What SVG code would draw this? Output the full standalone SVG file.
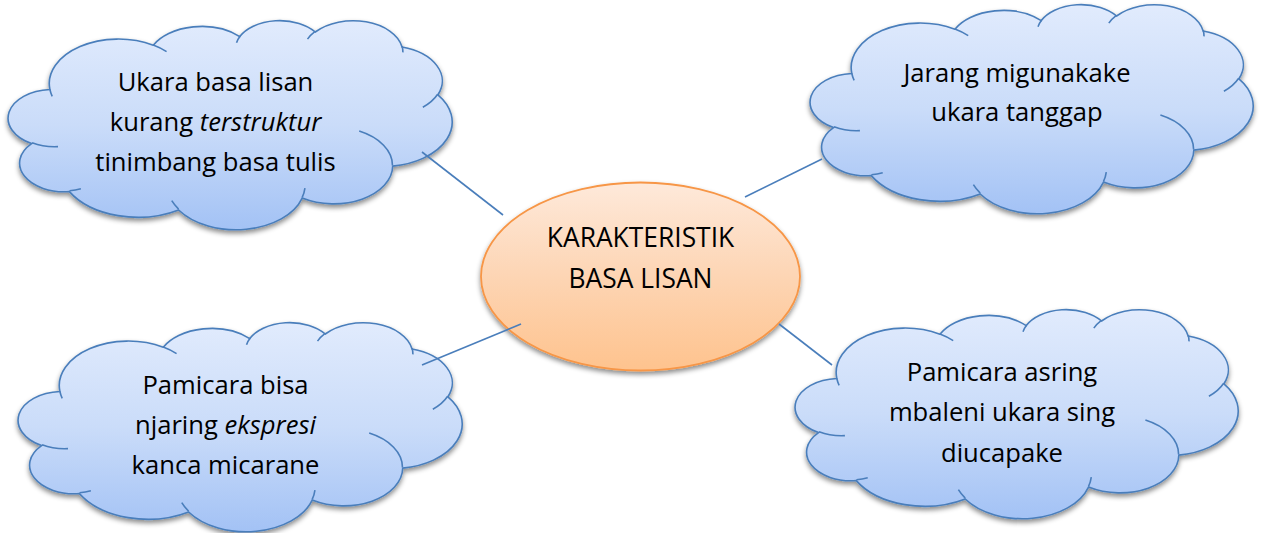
<svg xmlns="http://www.w3.org/2000/svg" width="1263" height="533" viewBox="0 0 1263 533">
<style>
.cloud{fill:url(#gBlue);stroke:#4a7ebb;stroke-width:1.6;vector-effect:non-scaling-stroke;}
.inner{fill:none;stroke:#4a7ebb;stroke-width:1.6;vector-effect:non-scaling-stroke;}
.oval{fill:url(#gOrange);stroke:#f79646;stroke-width:1.8;}
.conn{stroke:#4a7ebb;stroke-width:1.6;fill:none;}
text{font-family:"Open Sans","Noto Sans","Liberation Sans",sans-serif;font-size:25.6px;fill:#000;text-anchor:middle;}
.it{font-style:italic;}
</style>
<defs>
<linearGradient id="gBlue" x1="0" y1="0" x2="0" y2="1">
<stop offset="0" stop-color="#e1ebfd"/>
<stop offset="0.5" stop-color="#cadcf9"/>
<stop offset="1" stop-color="#a3c2f5"/>
</linearGradient>
<linearGradient id="gOrange" x1="0" y1="0" x2="0" y2="1">
<stop offset="0" stop-color="#fee9da"/>
<stop offset="0.5" stop-color="#fdd5b4"/>
<stop offset="1" stop-color="#fec38e"/>
</linearGradient>
<filter id="shadow" x="-10%" y="-10%" width="120%" height="130%">
<feDropShadow dx="0" dy="3" stdDeviation="2.5" flood-color="#000" flood-opacity="0.45"/>
</filter>
</defs>

<g id="node-center">
<g filter="url(#shadow)"><ellipse class="oval" cx="640.5" cy="276.5" rx="159.5" ry="94"/></g>
<text x="640.5" y="246.5" style="font-size:26.4px">KARAKTERISTIK</text>
<text x="640.5" y="288" style="font-size:26.4px">BASA LISAN</text>
</g>

<g id="node-topleft">
<g filter="url(#shadow)"><path class="cloud" transform="translate(10,20) scale(1.02315,0.4838)" d="M39 143.7A67.53 91.9 0 0 1 140.04 52.02A53.33 72.67 0 0 1 224.57 34.31A43.65 59.45 0 0 1 298.34 24.81A48.57 65.95 0 0 1 383.19 55.76A53.33 72.73 0 0 1 418.2 154.6A67.75 92.2 0 0 1 374.04 302.01A57.85 78.67 0 0 1 285.56 368.11A67.52 92.15 0 0 1 164.81 392.65A77.2 105.43 0 0 1 58.05 354.69A43.6 59.18 0 0 1 21.12 255.5A43.45 59.45 0 0 1 39 143.7Z"/></g>
<path class="inner" transform="translate(10,20) scale(1.02315,0.4838)" d="M46.93 261.77A43.45 59.45 0 0 1 21.59 253.8M69.28 348.99A43.6 59.18 0 0 1 58.19 352.81M164.78 390.9A67.52 92.15 0 0 1 158.09 373.48M288.27 347.51A67.52 92.15 0 0 1 285.6 366.6M341.29 229.54A57.85 78.67 0 0 1 373.8 300.9M417.98 153.54A53.33 72.73 0 0 1 403.5 180.3M383.24 54.26A48.57 65.95 0 0 1 384 66.9M290.78 39.52A48.57 65.95 0 0 1 298.19 23.42M221.41 47.2A43.65 59.45 0 0 1 225 33.3M140 51.92A67.53 91.9 0 0 1 153.02 65.42M41.27 157.89A67.53 91.9 0 0 1 39.01 143.71"/>
<text x="215.5" y="90.7">Ukara basa lisan</text>
<text x="215.5" y="130.7">kurang <tspan class="it">terstruktur</tspan></text>
<text x="215.5" y="170.7">tinimbang basa tulis</text>
</g>

<g id="node-topright">
<g filter="url(#shadow)"><path class="cloud" transform="translate(812,4) scale(1.02083,0.4838)" d="M39 143.7A67.53 91.9 0 0 1 140.04 52.02A53.33 72.67 0 0 1 224.57 34.31A43.65 59.45 0 0 1 298.34 24.81A48.57 65.95 0 0 1 383.19 55.76A53.33 72.73 0 0 1 418.2 154.6A67.75 92.2 0 0 1 374.04 302.01A57.85 78.67 0 0 1 285.56 368.11A67.52 92.15 0 0 1 164.81 392.65A77.2 105.43 0 0 1 58.05 354.69A43.6 59.18 0 0 1 21.12 255.5A43.45 59.45 0 0 1 39 143.7Z"/></g>
<path class="inner" transform="translate(812,4) scale(1.02083,0.4838)" d="M46.93 261.77A43.45 59.45 0 0 1 21.59 253.8M69.28 348.99A43.6 59.18 0 0 1 58.19 352.81M164.78 390.9A67.52 92.15 0 0 1 158.09 373.48M288.27 347.51A67.52 92.15 0 0 1 285.6 366.6M341.29 229.54A57.85 78.67 0 0 1 373.8 300.9M417.98 153.54A53.33 72.73 0 0 1 403.5 180.3M383.24 54.26A48.57 65.95 0 0 1 384 66.9M290.78 39.52A48.57 65.95 0 0 1 298.19 23.42M221.41 47.2A43.65 59.45 0 0 1 225 33.3M140 51.92A67.53 91.9 0 0 1 153.02 65.42M41.27 157.89A67.53 91.9 0 0 1 39.01 143.71"/>
<text x="1017" y="81.5">Jarang migunakake</text>
<text x="1017" y="121">ukara tanggap</text>
</g>

<g id="node-bottomleft">
<g filter="url(#shadow)"><path class="cloud" transform="translate(20,322) scale(1.02315,0.4838)" d="M39 143.7A67.53 91.9 0 0 1 140.04 52.02A53.33 72.67 0 0 1 224.57 34.31A43.65 59.45 0 0 1 298.34 24.81A48.57 65.95 0 0 1 383.19 55.76A53.33 72.73 0 0 1 418.2 154.6A67.75 92.2 0 0 1 374.04 302.01A57.85 78.67 0 0 1 285.56 368.11A67.52 92.15 0 0 1 164.81 392.65A77.2 105.43 0 0 1 58.05 354.69A43.6 59.18 0 0 1 21.12 255.5A43.45 59.45 0 0 1 39 143.7Z"/></g>
<path class="inner" transform="translate(20,322) scale(1.02315,0.4838)" d="M46.93 261.77A43.45 59.45 0 0 1 21.59 253.8M69.28 348.99A43.6 59.18 0 0 1 58.19 352.81M164.78 390.9A67.52 92.15 0 0 1 158.09 373.48M288.27 347.51A67.52 92.15 0 0 1 285.6 366.6M341.29 229.54A57.85 78.67 0 0 1 373.8 300.9M417.98 153.54A53.33 72.73 0 0 1 403.5 180.3M383.24 54.26A48.57 65.95 0 0 1 384 66.9M290.78 39.52A48.57 65.95 0 0 1 298.19 23.42M221.41 47.2A43.65 59.45 0 0 1 225 33.3M140 51.92A67.53 91.9 0 0 1 153.02 65.42M41.27 157.89A67.53 91.9 0 0 1 39.01 143.71"/>
<text x="225.5" y="394">Pamicara bisa</text>
<text x="225.5" y="434">njaring <tspan class="it">ekspresi</tspan></text>
<text x="225.5" y="474">kanca micarane</text>
</g>

<g id="node-bottomright">
<g filter="url(#shadow)"><path class="cloud" transform="translate(797,309) scale(1.02083,0.4838)" d="M39 143.7A67.53 91.9 0 0 1 140.04 52.02A53.33 72.67 0 0 1 224.57 34.31A43.65 59.45 0 0 1 298.34 24.81A48.57 65.95 0 0 1 383.19 55.76A53.33 72.73 0 0 1 418.2 154.6A67.75 92.2 0 0 1 374.04 302.01A57.85 78.67 0 0 1 285.56 368.11A67.52 92.15 0 0 1 164.81 392.65A77.2 105.43 0 0 1 58.05 354.69A43.6 59.18 0 0 1 21.12 255.5A43.45 59.45 0 0 1 39 143.7Z"/></g>
<path class="inner" transform="translate(797,309) scale(1.02083,0.4838)" d="M46.93 261.77A43.45 59.45 0 0 1 21.59 253.8M69.28 348.99A43.6 59.18 0 0 1 58.19 352.81M164.78 390.9A67.52 92.15 0 0 1 158.09 373.48M288.27 347.51A67.52 92.15 0 0 1 285.6 366.6M341.29 229.54A57.85 78.67 0 0 1 373.8 300.9M417.98 153.54A53.33 72.73 0 0 1 403.5 180.3M383.24 54.26A48.57 65.95 0 0 1 384 66.9M290.78 39.52A48.57 65.95 0 0 1 298.19 23.42M221.41 47.2A43.65 59.45 0 0 1 225 33.3M140 51.92A67.53 91.9 0 0 1 153.02 65.42M41.27 157.89A67.53 91.9 0 0 1 39.01 143.71"/>
<text x="1002" y="380.5">Pamicara asring</text>
<text x="1002" y="421">mbaleni ukara sing</text>
<text x="1002" y="461.5">diucapake</text>
</g>

<g id="connectors">
<line class="conn" x1="422" y1="152" x2="503" y2="215"/>
<line class="conn" x1="745" y1="197" x2="822" y2="159"/>
<line class="conn" x1="422" y1="365" x2="521" y2="324"/>
<line class="conn" x1="779" y1="324" x2="832" y2="365"/>
</g>
</svg>
